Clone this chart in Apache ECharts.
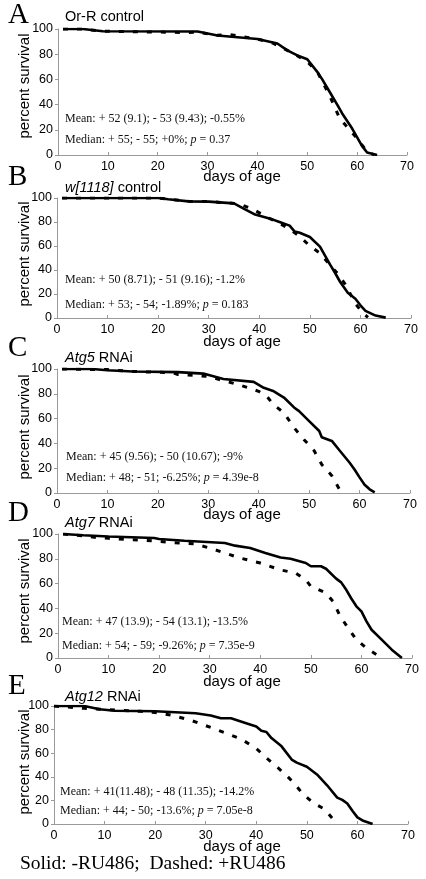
<!DOCTYPE html>
<html><head><meta charset="utf-8">
<script src="https://cdn.jsdelivr.net/npm/echarts@6/dist/echarts.min.js"></script>
<style>html,body{margin:0;padding:0;background:#fff}#c{width:426px;height:879px}</style>
</head><body><div id="c"></div>
<script>
// Panel A: Or-R control  [day, percent survival]
const aSolid = [[1,100],[5,100],[9,98.2],[28,98],[32,94.8],[40,92],[44,88.5],[46,83],[48,79],[50,76],[52,66],[53,60],[54.5,50],[56,40],[57,33],[58,27],[59,21],[60,14],[61,7],[62,2],[64,0]];
const aDashed = [[1,100],[5,100],[9,98.2],[23,97.4],[26,97.2],[28,97.5],[32,95],[34.5,95.5],[37,94],[40,92],[43,89],[46,83],[47.5,80],[50,74],[52,66],[54.5,47],[56.5,29],[58.5,20],[60,13],[62,2.6],[63.5,0]];
// Panel B: w[1118] control
const bSolid = [[1,100],[20,100],[22,99],[26,97.2],[30,97],[35,95.5],[37,91],[39,86.5],[42,83],[44,80],[46,77],[47,72],[48,71],[50,67.5],[52,59.5],[53,52],[54,44.5],[55,37.5],[56,30],[57.5,21],[59,16],[60,10.6],[61,6],[63,2],[65,0.3]];
const bDashed = [[1,100],[20,100],[22,99],[26,97.2],[30,97],[35,95.5],[36.5,94.4],[39,90],[42,83],[44,79],[46,74],[48,68],[50,60],[52,54],[54,44],[55.5,37],[57,28],[59,12],[60.5,4],[61.5,0.5]];
// Panel C: Atg5 RNAi
const cSolid = [[1,100],[7,100],[10,99],[15,98],[24,97.5],[29,96.3],[33,92],[39,89.6],[41,84.8],[43,82],[45,77],[47,69],[48,66],[50,58],[52,50],[52.5,45],[54.5,42],[56,34.5],[58,24.6],[59,19],[60,12.6],[61,6.7],[62,3],[63,0.5]];
const cDashed = [[1,100],[10,99.5],[15,98],[23,97],[24,95.5],[27,95],[30,94],[33,90.6],[36,87.4],[40,82],[41.6,78],[43,71],[45,64.7],[47,52.7],[49,43],[51,34],[52.5,23],[54.5,14],[56,3],[56.6,0]];
// Panel D: Atg7 RNAi
const dSolid = [[1,100],[5,99],[10,98],[19,96.8],[20,96],[25,94.6],[33,92.7],[35,90.6],[38,88.7],[41,84.7],[44,81],[46,80],[49,76.6],[50,74],[52,74],[53,72],[55,64],[56,61],[57,55],[58,48],[59,41.7],[60,37.6],[61,29.6],[62,22.8],[64,14.8],[66,6.7],[68,0]];
const dDashed = [[1,100],[5,98.5],[8,97],[10,96.5],[14,95.4],[17,95],[20,94],[24,92.7],[27,92],[30,88.7],[33,84.7],[36,80.6],[40,76.6],[44,71],[47,68.5],[49,63],[50,57.8],[53,52.4],[54.5,45],[55.8,33.6],[57.4,24],[59,14.8],[61,8],[63.7,0.8],[64,0]];
// Panel E: Atg12 RNAi
const eSolid = [[0,100],[6,100],[9,97.2],[12,96],[20,95.5],[28,93.8],[31,92],[33,89.6],[35,89.6],[38,85.4],[40,82.6],[41,79],[42,78],[43,72.8],[45,65.8],[47,54.6],[48,52],[50,48.5],[52,42],[54,32.8],[56,22.4],[57,20.4],[58,17.4],[59,11.2],[60,5.6],[61,3],[63,0]];
const eDashed = [[0,100],[6,98],[10,97],[17,95.5],[20,94.4],[23,92.4],[27,88],[31,81.8],[34,77],[37,72],[40,64],[42,56],[44,48.7],[46,41],[47.6,34],[49.2,25.5],[51.2,18],[53.5,12.6],[55,5],[56,0.5]];

const panelLetters = ['A','B','C','D','E'];
const panelTitlesItalic = ['', 'w[1118]', 'Atg5', 'Atg7', 'Atg12'];
const panelTitlesRest = ['Or-R control', ' control', ' RNAi', ' RNAi', ' RNAi'];
const meanTexts = ['Mean: + 52 (9.1); - 53 (9.43); -0.55%','Mean: + 50 (8.71); - 51 (9.16); -1.2%','Mean: + 45 (9.56); - 50 (10.67); -9%','Mean: + 47 (13.9); - 54 (13.1); -13.5%','Mean: + 41(11.48); - 48 (11.35); -14.2%'];
const medianPre = ['Median: + 55; - 55; +0%; ','Median: + 53; - 54; -1.89%; ','Median: + 48; - 51; -6.25%; ','Median: + 54; - 59; -9.26%; ','Median: + 44; - 50; -13.6%; '];
const pValues = [' = 0.37',' = 0.183',' = 4.39e-8',' = 7.35e-9',' = 7.05e-8'];
const xTitle = 'days of age';
const yTitle = 'percent survival';
const footer = 'Solid: -RU486;  Dashed: +RU486';

const solids = [aSolid,bSolid,cSolid,dSolid,eSolid];
const dashes = [aDashed,bDashed,cDashed,dDashed,eDashed];

// layout (pixels)
const grids = [
  {left:58, top:29, width:349, height:126},
  {left:57, top:198, width:354, height:120},
  {left:57, top:369, width:353, height:124},
  {left:58, top:534, width:354, height:124},
  {left:54, top:706, width:354, height:118}
];
const letterY = [17,179,350,515,688];
const titleY = [17,188,358,523,697];
const meanY = [119,280,457,622,792];
const medY = [140,305,478,646,811];
const textX = [65,65,66,62,60];
const xTitleY = [177,342,515,682,847];
const yTitleY = [86,254,427,591,762];

const AX = '#9a9a9a';
const xAxes = [], yAxes = [], series = [], graphics = [];
grids.forEach((g,i)=>{
  xAxes.push({gridIndex:i,type:'value',min:0,max:70,interval:10,
    axisLine:{lineStyle:{color:AX,width:1}},axisTick:{inside:true,length:3,lineStyle:{color:AX}},
    splitLine:{show:false},axisLabel:{color:'#000',fontFamily:'Liberation Sans, Arial',fontSize:12.5,margin:5}});
  yAxes.push({gridIndex:i,type:'value',min:0,max:100,interval:20,
    axisLine:{show:true,lineStyle:{color:AX,width:1}},axisTick:{show:true,length:3,lineStyle:{color:AX}},
    splitLine:{show:false},axisLabel:{color:'#000',fontFamily:'Liberation Sans, Arial',fontSize:12.5,margin:5}});
  series.push({type:'line',xAxisIndex:i,yAxisIndex:i,data:dashes[i],showSymbol:false,
    lineStyle:{color:'#000',width:3,type:[5,9]},z:2,animation:false});
  series.push({type:'line',xAxisIndex:i,yAxisIndex:i,data:solids[i],showSymbol:false,
    lineStyle:{color:'#000',width:2.6},z:3,animation:false});
  graphics.push({type:'text',left:8,top:letterY[i]-16,style:{text:panelLetters[i],font:'29px "Liberation Serif", "Times New Roman", serif',fill:'#000'}});
  graphics.push({type:'text',x:65,y:titleY[i],style:{text:(panelTitlesItalic[i]?'{i|'+panelTitlesItalic[i]+'}':'')+'{n|'+panelTitlesRest[i]+'}',verticalAlign:'middle',
    rich:{i:{fontFamily:'Liberation Sans, Arial',fontStyle:'italic',fontSize:14.5,fill:'#000'},n:{fontFamily:'Liberation Sans, Arial',fontSize:14.5,fill:'#000'}}}});
  graphics.push({type:'text',x:textX[i],y:meanY[i],style:{text:meanTexts[i],font:'12px "Liberation Serif", serif',fill:'#111',verticalAlign:'middle'}});
  graphics.push({type:'text',x:textX[i],y:medY[i],style:{text:'{n|'+medianPre[i]+'}{i|p}{n|'+pValues[i]+'}',verticalAlign:'middle',
    rich:{n:{fontFamily:'Liberation Serif',fontSize:12,fill:'#111'},i:{fontFamily:'Liberation Serif',fontStyle:'italic',fontSize:12,fill:'#111'}}}});
  graphics.push({type:'text',x:242,y:xTitleY[i],style:{text:xTitle,font:'15px "Liberation Sans", Arial',fill:'#000',align:'center',verticalAlign:'middle'}});
  graphics.push({type:'text',x:25,y:yTitleY[i],rotation:Math.PI/2,style:{text:yTitle,font:'15px "Liberation Sans", Arial',fill:'#000',align:'center',verticalAlign:'middle'}});
});
graphics.push({type:'text',x:20,y:864,style:{text:footer,font:'19.5px "Liberation Serif", serif',fill:'#000',verticalAlign:'middle'}});

const chart = echarts.init(document.getElementById('c'),null,{renderer:'canvas'});
chart.setOption({animation:false,backgroundColor:'#fff',grid:grids,xAxis:xAxes,yAxis:yAxes,series:series,graphic:graphics});
</script></body></html>
